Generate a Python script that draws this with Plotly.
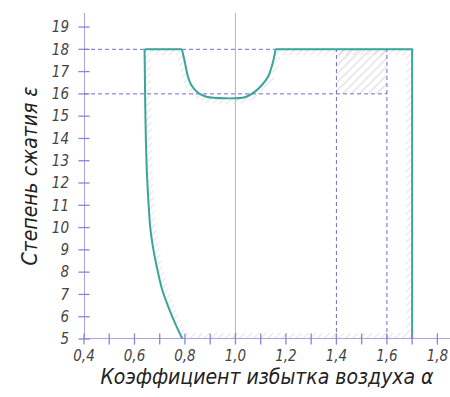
import numpy as np
import plotly.graph_objects as go

# ---- data ----
# lower-left boundary (alpha, epsilon), from bottom up
left_alpha = [0.79, 0.765, 0.739, 0.71, 0.688, 0.672, 0.662, 0.655, 0.649, 0.645, 0.642, 0.64]
left_eps   = [5.0, 5.6, 6.3, 7.2, 8.25, 9.2, 10.05, 11.2, 12.5, 14.0, 16.0, 18.0]
# "bowl" (upper boundary dip), left to right
bowl_alpha = [0.788, 0.799, 0.812, 0.825, 0.852, 0.885, 0.958, 1.037, 1.077, 1.105, 1.129, 1.148, 1.159]
bowl_eps   = [18.0, 17.45, 16.77, 16.4, 16.05, 15.87, 15.8, 15.85, 16.1, 16.4, 16.77, 17.4, 18.0]
eps_max = 18.0
eps_min = 5.0
alpha_right = 1.7
# dashed reference lines
hline_eps = [18, 16]
hline_alpha_end = [1.7, 1.6]
vline_alpha = [1.4, 1.6]
vline_eps_top = [18, 18]
hatch_rect = dict(x0=1.4, x1=1.6, y0=16, y1=18)
stoich_alpha = 1.0

x_ticks = [0.4, 0.6, 0.8, 1.0, 1.2, 1.4, 1.6, 1.8]
x_ticktext = ["0,4", "0,6", "0,8", "1,0", "1,2", "1,4", "1,6", "1,8"]
x_minor = [0.4, 0.5, 0.6, 0.7, 0.8, 0.9, 1.0, 1.1, 1.2, 1.3, 1.4, 1.5, 1.6, 1.7, 1.8]
y_ticks = list(range(5, 20))

X_RANGE = [0.4, 1.85]
Y_RANGE = [5, 19.63]
W, H = 450, 397
M = dict(l=84, r=0, t=13, b=58)

TEAL = "#3aa59a"
AXC = "#8a86d6"
DASHC = "#6f6cc8"
FONT = "DejaVu Sans Condensed"

# boundary polygon (clockwise)
bx = list(left_alpha) + bowl_alpha + [alpha_right, alpha_right]
by = list(left_eps) + bowl_eps + [eps_max, eps_min]

# pixel scales
pw = W - M["l"] - M["r"]
ph = H - M["t"] - M["b"]
sx = pw / (X_RANGE[1] - X_RANGE[0])
sy = ph / (Y_RANGE[1] - Y_RANGE[0])

P = np.column_stack([np.array(bx) * sx, np.array(by) * sy])
n = len(P)
band = 6.0
inner = []
for i in range(n):
    a, b, c = P[i - 1], P[i], P[(i + 1) % n]
    d1 = b - a; d1 /= np.linalg.norm(d1)
    d2 = c - b; d2 /= np.linalg.norm(d2)
    n1 = np.array([d1[1], -d1[0]])
    n2 = np.array([d2[1], -d2[0]])
    nm = n1 + n2
    nm /= np.linalg.norm(nm)
    cosh = max(np.dot(nm, n1), 0.3)
    inner.append(b + nm * band / cosh)
inner = np.array(inner)
ring_x = list(P[:, 0] / sx) + [P[0, 0] / sx] + [inner[0, 0] / sx] + list(inner[::-1, 0] / sx)
ring_y = list(P[:, 1] / sy) + [P[0, 1] / sy] + [inner[0, 1] / sy] + list(inner[::-1, 1] / sy)

fig = go.Figure()

# hatch band inside boundary
fig.add_trace(go.Scatter(
    x=ring_x, y=ring_y, mode="lines", fill="toself",
    line=dict(width=0), fillcolor="rgba(0,0,0,0)",
    fillpattern=dict(shape="/", fgcolor="#c4c4c4", bgcolor="rgba(255,255,255,0)", size=5, solidity=0.2),
    hoverinfo="skip", showlegend=False))

# hatched rectangle
fig.add_trace(go.Scatter(
    x=[hatch_rect["x0"], hatch_rect["x1"], hatch_rect["x1"], hatch_rect["x0"], hatch_rect["x0"]],
    y=[hatch_rect["y0"], hatch_rect["y0"], hatch_rect["y1"], hatch_rect["y1"], hatch_rect["y0"]],
    mode="lines", fill="toself", line=dict(width=0), fillcolor="rgba(0,0,0,0)",
    fillpattern=dict(shape="/", fgcolor="#bdbdbd", bgcolor="rgba(255,255,255,0)", size=6, solidity=0.2),
    hoverinfo="skip", showlegend=False))

# stoichiometric line
fig.add_trace(go.Scatter(x=[stoich_alpha, stoich_alpha], y=[eps_min, Y_RANGE[1]], mode="lines",
                         line=dict(color="#b8b8b8", width=1), hoverinfo="skip", showlegend=False))

# dashed lines
for e, xe in zip(hline_eps, hline_alpha_end):
    fig.add_trace(go.Scatter(x=[X_RANGE[0], xe], y=[e, e], mode="lines",
                             line=dict(color=DASHC, width=1, dash="4px,3px"),
                             hoverinfo="skip", showlegend=False))
for a, et in zip(vline_alpha, vline_eps_top):
    fig.add_trace(go.Scatter(x=[a, a], y=[eps_min, et], mode="lines",
                             line=dict(color=DASHC, width=1, dash="4px,3px"),
                             hoverinfo="skip", showlegend=False))

# teal boundary
fig.add_trace(go.Scatter(x=left_alpha, y=left_eps, mode="lines", line=dict(color=TEAL, width=2, shape="spline", smoothing=0.8),
                         hoverinfo="skip", showlegend=False))
fig.add_trace(go.Scatter(x=[left_alpha[-1], bowl_alpha[0]], y=[eps_max, eps_max], mode="lines",
                         line=dict(color=TEAL, width=2), hoverinfo="skip", showlegend=False))
fig.add_trace(go.Scatter(x=bowl_alpha, y=bowl_eps, mode="lines", line=dict(color=TEAL, width=2, shape="spline", smoothing=0.8),
                         hoverinfo="skip", showlegend=False))
fig.add_trace(go.Scatter(x=[bowl_alpha[-1], alpha_right, alpha_right], y=[eps_max, eps_max, eps_min], mode="lines",
                         line=dict(color=TEAL, width=2), hoverinfo="skip", showlegend=False))

# axis lines
fig.add_trace(go.Scatter(x=[X_RANGE[0], X_RANGE[1]], y=[eps_min, eps_min], mode="lines",
                         line=dict(color=AXC, width=1.5), hoverinfo="skip", showlegend=False))
fig.add_trace(go.Scatter(x=[X_RANGE[0], X_RANGE[0]], y=[eps_min, Y_RANGE[1]], mode="lines",
                         line=dict(color=AXC, width=1.5), hoverinfo="skip", showlegend=False))
# crossing tick marks
fig.add_trace(go.Scatter(x=x_minor, y=[eps_min] * len(x_minor), mode="markers",
                         marker=dict(symbol="line-ns", size=8, line=dict(color=AXC, width=1.3)),
                         hoverinfo="skip", showlegend=False, cliponaxis=False))
fig.add_trace(go.Scatter(x=[X_RANGE[0]] * len(y_ticks), y=y_ticks, mode="markers",
                         marker=dict(symbol="line-ew", size=8, line=dict(color=AXC, width=1.3)),
                         hoverinfo="skip", showlegend=False, cliponaxis=False))

fig.update_layout(
    width=W, height=H, margin=M,
    paper_bgcolor="white", plot_bgcolor="white",
    font=dict(family=FONT, color="#333333"),
    xaxis=dict(range=X_RANGE, showgrid=False, zeroline=False, showline=False,
               tickvals=x_ticks, ticktext=x_ticktext, ticks="", ticklabelstandoff=6,
               tickfont=dict(size=15, family=FONT, style="italic", color="#444444"),
               title=dict(text="Коэффициент избытка воздуха α", standoff=5,
                          font=dict(size=21, family=FONT, style="italic", color="#222222"))),
    yaxis=dict(range=Y_RANGE, showgrid=False, zeroline=False, showline=False,
               tickvals=y_ticks, ticks="", ticklabelstandoff=14,
               tickfont=dict(size=15, family=FONT, style="italic", color="#444444"),
               title=dict(text="Степень сжатия ε", standoff=8,
                          font=dict(size=21, family=FONT, style="italic", color="#222222"))),
)

fig.write_html("out.html")
